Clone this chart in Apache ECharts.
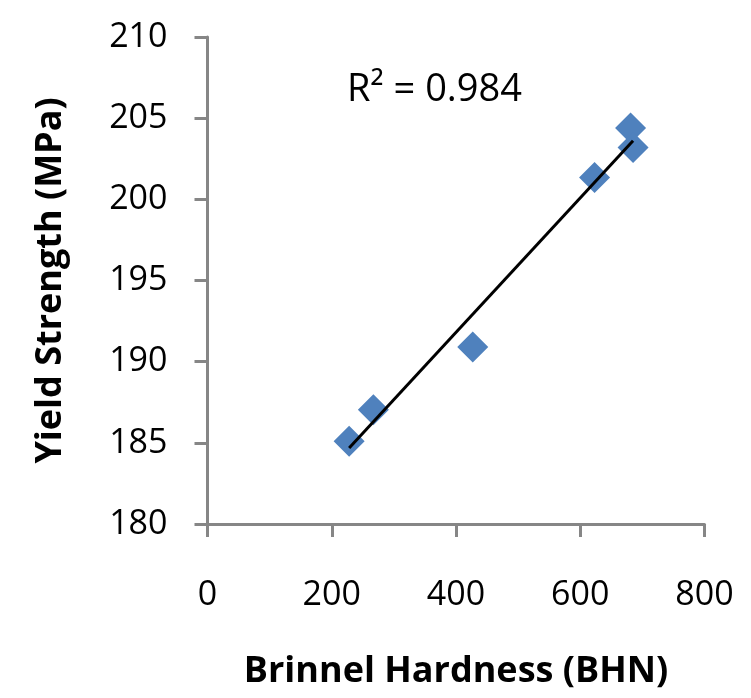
<!DOCTYPE html>
<html>
<head>
<meta charset="utf-8">
<script src="https://cdn.jsdelivr.net/npm/echarts@6/dist/echarts.min.js"></script>
<style>
	html, body { margin: 0; padding: 0; background: #fff; }
	#chart { width: 751px; height: 698px; }
</style>
</head>
<body>
<div id="chart"></div>
<script>
	// 数据：布氏硬度 / 屈服强度
	const hardness = [228, 267, 427, 623, 681, 685]
	const yieldStrength = [185.1, 187.04, 190.9, 201.35, 204.4, 203.2]
	const xTicks = [0, 200, 400, 600, 800]
	const yTicks = [180, 185, 190, 195, 200, 205, 210]
	const rSquaredText = 'R² = 0.984'

	/**
	 * 最小二乘拟合，返回趋势线两端点
	 */
	function trendLine(xs, ys) {
		const n = xs.length
		let sx = 0, sy = 0, sxx = 0, sxy = 0
		for (let i = 0; i < n; i++) {
			sx += xs[i]
			sy += ys[i]
			sxx += xs[i] * xs[i]
			sxy += xs[i] * ys[i]
		}
		const k = (n * sxy - sx * sy) / (n * sxx - sx * sx)
		const b = (sy - k * sx) / n
		const x0 = Math.min(...xs)
		const x1 = Math.max(...xs)
		return [[x0, k * x0 + b], [x1, k * x1 + b]]
	}

	const font = '"Open Sans", "Noto Sans", sans-serif'
	const axisGray = '#868686'

	const chart = echarts.init(document.getElementById('chart'))
	chart.setOption({
		animation: false,
		grid: {
			left: 207.5,
			right: 46.5,
			top: 37,
			bottom: 174,
		},
		xAxis: {
			type: 'value',
			min: xTicks[0],
			max: xTicks[xTicks.length - 1],
			interval: xTicks[1] - xTicks[0],
			name: 'Brinnel Hardness (BHN)',
			nameLocation: 'middle',
			nameGap: 130,
			nameTextStyle: { fontFamily: font, fontWeight: 'bold', fontSize: 36, color: '#000' },
			axisLine: { lineStyle: { color: axisGray, width: 3 } },
			axisTick: { show: true, length: 13, lineStyle: { color: axisGray, width: 3 } },
			axisLabel: { margin: 54, fontFamily: font, fontSize: 34, color: '#000' },
			splitLine: { show: false },
		},
		yAxis: {
			type: 'value',
			min: yTicks[0],
			max: yTicks[yTicks.length - 1],
			interval: yTicks[1] - yTicks[0],
			name: 'Yield Strength (MPa)',
			nameLocation: 'middle',
			nameGap: 139,
			nameTextStyle: { fontFamily: font, fontWeight: 'bold', fontSize: 36, color: '#000' },
			axisLine: { show: true, lineStyle: { color: axisGray, width: 3 } },
			axisTick: { show: true, length: 13, lineStyle: { color: axisGray, width: 3 } },
			axisLabel: { margin: 40, fontFamily: font, fontSize: 34, color: '#000' },
			splitLine: { show: false },
		},
		graphic: [{
			type: 'text',
			left: 347,
			top: 71,
			style: { text: rSquaredText, font: '38px ' + font, fill: '#000' },
		}],
		series: [
			{
				type: 'scatter',
				data: hardness.map((x, i) => [x, yieldStrength[i]]),
				symbol: 'diamond',
				symbolSize: 31,
				itemStyle: { color: '#4F81BD', opacity: 1 },
				z: 2,
			},
			{
				type: 'line',
				data: trendLine(hardness, yieldStrength),
				showSymbol: false,
				lineStyle: { color: '#000', width: 3 },
				z: 3,
			},
		],
	})
</script>
</body>
</html>
